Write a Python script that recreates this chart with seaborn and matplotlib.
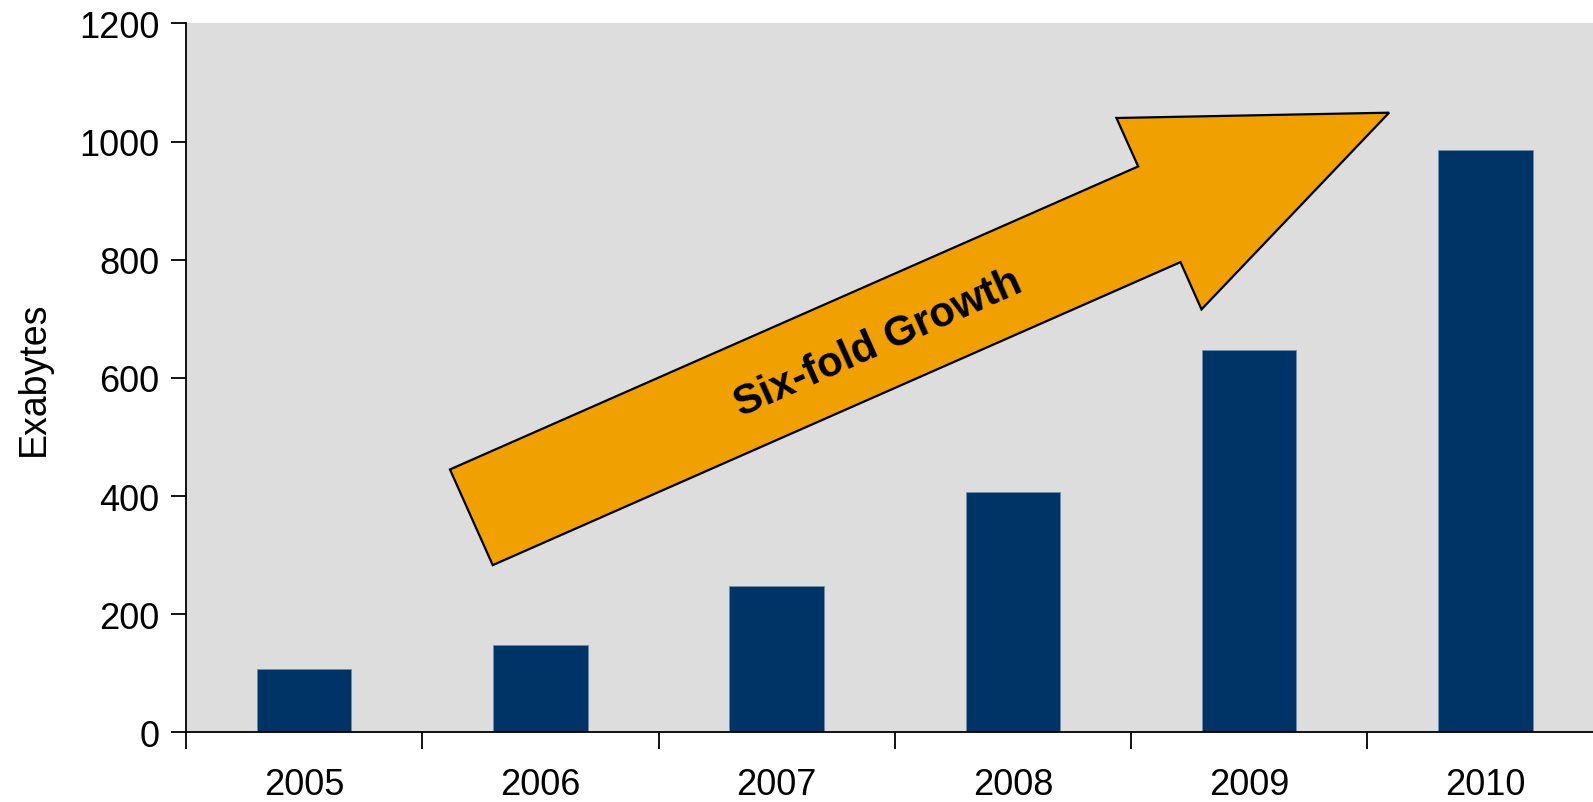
import pandas as pd
import seaborn as sns
import matplotlib.pyplot as plt
from matplotlib.patches import Polygon

# datos del grafico
anios = ["2005", "2006", "2007", "2008", "2009", "2010"]
exabytes = [107, 148, 248, 406, 647, 986]

df = pd.DataFrame({"anio": anios, "exabytes": exabytes})

sns.set_style("white")
plt.rcParams["font.family"] = ["Liberation Sans", "DejaVu Sans"]
plt.rcParams["text.color"] = "black"
plt.rcParams["axes.labelcolor"] = "black"
plt.rcParams["xtick.color"] = "black"
plt.rcParams["ytick.color"] = "black"

fig = plt.figure(figsize=(15.93, 8.03), dpi=100)
ax = fig.add_axes([0.1168, 0.0868, 0.8832, 0.8827])
ax.set_facecolor("#dddddd")

sns.barplot(data=df, x="anio", y="exabytes", color="#003366", width=0.4,
            saturation=1, edgecolor="#6f8fae", linewidth=0.6, ax=ax)

# ticks del eje x en los limites de cada categoria
ax.set_xticks([i - 0.5 for i in range(7)], minor=True)
ax.set_yticks(range(0, 1201, 200))
# los limites despues de los ticks (set_xticks amplia la vista)
ax.set_xlim(-0.5, 5.455)
ax.set_ylim(0, 1200)

ax.tick_params(axis="x", which="major", length=0, pad=25, labelsize=26)
ax.tick_params(axis="x", which="minor", length=12, width=1.3, direction="out")
ax.tick_params(axis="y", length=11, width=1.3, direction="out", labelsize=26, pad=8)
ax.xaxis.set_ticks_position("bottom")
ax.yaxis.set_ticks_position("left")

for lado in ["top", "right"]:
    ax.spines[lado].set_visible(False)
for lado in ["left", "bottom"]:
    ax.spines[lado].set_color("black")
    ax.spines[lado].set_linewidth(1.3)

ax.set_xlabel("")
ax.set_ylabel("Exabytes", fontsize=27, labelpad=20)

# flecha de crecimiento
flecha = [(0.617, 445), (3.530, 958), (3.438, 1040), (4.592, 1049),
          (3.798, 716), (3.709, 796), (0.798, 283)]
ax.add_patch(Polygon(flecha, closed=True, facecolor="#f0a000",
                     edgecolor="black", linewidth=1.6, zorder=3))
ax.text(2.43, 660, "Six-fold Growth", fontsize=30, fontweight="bold",
        rotation=24, ha="center", va="center", zorder=4)

plt.savefig("out.png", dpi=100)
